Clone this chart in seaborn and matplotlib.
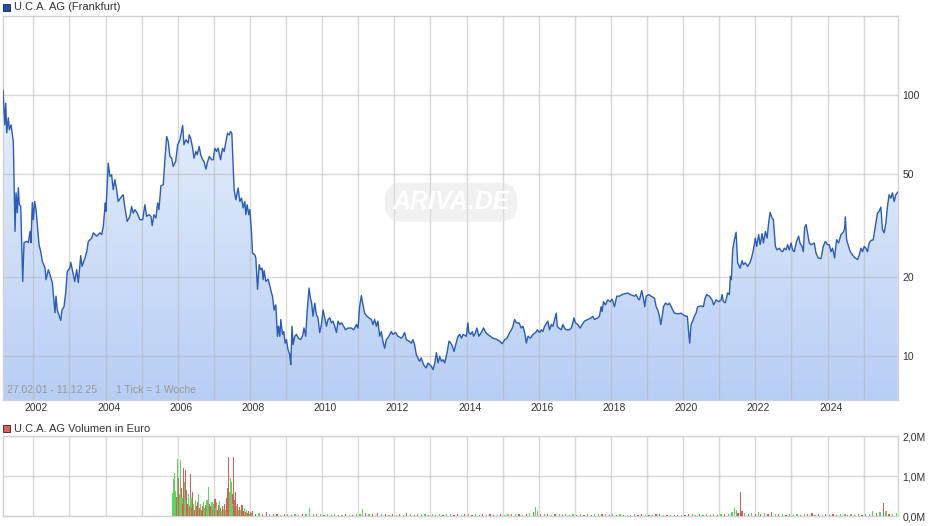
import numpy as np
import pandas as pd
import matplotlib
matplotlib.use("Agg")
import matplotlib.pyplot as plt
import matplotlib.transforms as mtransforms
from matplotlib.colors import LinearSegmentedColormap
from matplotlib.patches import Rectangle
from matplotlib.ticker import FixedLocator, NullLocator
import seaborn as sns

# ---------------- data ----------------
price_dates = [
    2001.160, 2001.210, 2001.236, 2001.263, 2001.307, 2001.335, 2001.382, 2001.401, 2001.446, 2001.493,
    2001.521, 2001.557, 2001.584, 2001.612, 2001.651, 2001.706, 2001.743, 2001.817, 2001.862, 2001.909,
    2001.936, 2001.972, 2002.000, 2002.039, 2002.075, 2002.158, 2002.213, 2002.249, 2002.324, 2002.352,
    2002.415, 2002.462, 2002.526, 2002.601, 2002.628, 2002.664, 2002.758, 2002.794, 2002.850, 2002.897,
    2002.941, 2003.017, 2003.036, 2003.091, 2003.147, 2003.202, 2003.246, 2003.313, 2003.349, 2003.432,
    2003.479, 2003.523, 2003.617, 2003.661, 2003.755, 2003.847, 2003.894, 2003.938, 2003.994, 2004.011,
    2004.075, 2004.122, 2004.169, 2004.213, 2004.260, 2004.307, 2004.351, 2004.445, 2004.489, 2004.536,
    2004.600, 2004.675, 2004.722, 2004.766, 2004.813, 2004.877, 2004.952, 2005.028, 2005.091, 2005.138,
    2005.202, 2005.257, 2005.293, 2005.341, 2005.396, 2005.443, 2005.479, 2005.534, 2005.598, 2005.645,
    2005.692, 2005.737, 2005.784, 2005.831, 2005.875, 2005.942, 2005.997, 2006.061, 2006.136, 2006.172,
    2006.227, 2006.291, 2006.319, 2006.357, 2006.413, 2006.449, 2006.504, 2006.540, 2006.596, 2006.635,
    2006.690, 2006.726, 2006.781, 2006.817, 2006.873, 2006.939, 2006.983, 2007.028, 2007.075, 2007.119,
    2007.186, 2007.241, 2007.285, 2007.352, 2007.379, 2007.424, 2007.462, 2007.498, 2007.534, 2007.562,
    2007.609, 2007.673, 2007.720, 2007.767, 2007.811, 2007.858, 2007.886, 2007.922, 2007.969, 2007.997,
    2008.044, 2008.072, 2008.136, 2008.163, 2008.210, 2008.255, 2008.293, 2008.338, 2008.365, 2008.393,
    2008.440, 2008.503, 2008.550, 2008.597, 2008.625, 2008.669, 2008.716, 2008.763, 2008.791, 2008.827,
    2008.855, 2008.902, 2008.938, 2008.974, 2009.011, 2009.055, 2009.102, 2009.130, 2009.166, 2009.194,
    2009.241, 2009.288, 2009.343, 2009.398, 2009.454, 2009.498, 2009.545, 2009.581, 2009.637, 2009.675,
    2009.703, 2009.747, 2009.794, 2009.841, 2009.885, 2009.932, 2009.979, 2010.025, 2010.072, 2010.119,
    2010.163, 2010.210, 2010.257, 2010.302, 2010.349, 2010.396, 2010.440, 2010.487, 2010.534, 2010.598,
    2010.645, 2010.717, 2010.811, 2010.874, 2010.949, 2010.993, 2011.039, 2011.086, 2011.130, 2011.177,
    2011.240, 2011.296, 2011.362, 2011.407, 2011.454, 2011.501, 2011.545, 2011.592, 2011.639, 2011.683,
    2011.730, 2011.777, 2011.849, 2011.916, 2011.960, 2012.036, 2012.099, 2012.193, 2012.237, 2012.284,
    2012.331, 2012.403, 2012.470, 2012.514, 2012.561, 2012.608, 2012.652, 2012.699, 2012.746, 2012.791,
    2012.838, 2012.885, 2012.929, 2012.976, 2013.028, 2013.072, 2013.119, 2013.166, 2013.210, 2013.257,
    2013.304, 2013.348, 2013.395, 2013.459, 2013.514, 2013.561, 2013.608, 2013.652, 2013.699, 2013.763,
    2013.810, 2013.857, 2013.901, 2013.995, 2014.036, 2014.064, 2014.111, 2014.158, 2014.194, 2014.249,
    2014.285, 2014.341, 2014.407, 2014.471, 2014.526, 2014.590, 2014.656, 2014.728, 2014.822, 2014.914,
    2014.989, 2015.055, 2015.119, 2015.194, 2015.268, 2015.332, 2015.379, 2015.451, 2015.517, 2015.562,
    2015.609, 2015.656, 2015.700, 2015.767, 2015.839, 2015.913, 2015.960, 2016.022, 2016.069, 2016.113,
    2016.161, 2016.252, 2016.299, 2016.346, 2016.390, 2016.437, 2016.484, 2016.512, 2016.556, 2016.623,
    2016.667, 2016.714, 2016.761, 2016.852, 2016.899, 2016.943, 2016.971, 2017.017, 2017.080, 2017.147,
    2017.202, 2017.266, 2017.357, 2017.451, 2017.495, 2017.542, 2017.633, 2017.680, 2017.727, 2017.755,
    2017.791, 2017.846, 2017.910, 2017.977, 2018.033, 2018.097, 2018.160, 2018.235, 2018.310, 2018.401,
    2018.465, 2018.531, 2018.650, 2018.697, 2018.741, 2018.788, 2018.852, 2018.899, 2018.935, 2018.974,
    2019.047, 2019.113, 2019.205, 2019.252, 2019.296, 2019.343, 2019.379, 2019.418, 2019.454, 2019.509,
    2019.573, 2019.620, 2019.711, 2019.758, 2019.850, 2019.944, 2019.988, 2020.080, 2020.116, 2020.152,
    2020.180, 2020.218, 2020.263, 2020.310, 2020.357, 2020.401, 2020.495, 2020.559, 2020.606, 2020.650,
    2020.725, 2020.800, 2020.844, 2020.910, 2020.982, 2021.050, 2021.077, 2021.113, 2021.169, 2021.232,
    2021.279, 2021.307, 2021.335, 2021.371, 2021.418, 2021.465, 2021.509, 2021.575, 2021.631, 2021.667,
    2021.722, 2021.786, 2021.852, 2021.897, 2021.944, 2022.000, 2022.036, 2022.091, 2022.130, 2022.186,
    2022.222, 2022.277, 2022.324, 2022.368, 2022.407, 2022.462, 2022.498, 2022.554, 2022.601, 2022.664,
    2022.711, 2022.755, 2022.802, 2022.849, 2022.893, 2022.940, 2022.987, 2023.031, 2023.078, 2023.141,
    2023.197, 2023.236, 2023.291, 2023.327, 2023.363, 2023.402, 2023.438, 2023.493, 2023.540, 2023.632,
    2023.679, 2023.742, 2023.817, 2023.880, 2023.936, 2024.000, 2024.047, 2024.094, 2024.138, 2024.194,
    2024.249, 2024.304, 2024.371, 2024.434, 2024.470, 2024.490, 2024.526, 2024.581, 2024.628, 2024.692,
    2024.739, 2024.830, 2024.877, 2024.924, 2024.968, 2025.014, 2025.061, 2025.105, 2025.152, 2025.199,
    2025.263, 2025.337, 2025.382, 2025.429, 2025.476, 2025.520, 2025.567, 2025.614, 2025.658, 2025.705,
    2025.752, 2025.796, 2025.843, 2025.890, 2025.945,
]
price_values = [
    104.8, 76.9, 93.1, 71.7, 81.8, 73.6, 76.9, 73.6, 66.4, 30.0,
    42.2, 35.4, 44.2, 38.0, 37.6, 19.3, 27.2, 27.5, 27.2, 30.0,
    27.2, 38.7, 33.3, 39.1, 36.4, 26.7, 24.8, 23.05, 21.8, 19.6,
    21.4, 20.5, 19.1, 14.65, 16.95, 15.0, 13.7, 15.0, 15.45, 17.5,
    21.1, 21.8, 22.85, 21.1, 19.3, 21.4, 19.1, 24.25, 22.05, 23.8,
    25.1, 27.5, 28.3, 29.65, 28.8, 29.65, 29.2, 31.4, 38.6, 35.85,
    54.9, 48.8, 49.5, 43.4, 47.4, 43.4, 39.1, 40.9, 41.5, 36.95,
    32.8, 34.3, 37.4, 35.3, 36.4, 35.3, 33.3, 33.3, 38.0, 34.3,
    34.8, 34.3, 31.6, 34.8, 33.8, 38.6, 36.4, 44.9, 45.3, 56.5,
    69.4, 66.4, 58.2, 57.35, 53.3, 55.7, 64.5, 67.4, 76.5, 64.5,
    67.4, 65.5, 70.4, 68.4, 62.6, 57.35, 60.8, 59.1, 63.5, 59.1,
    56.5, 55.7, 52.0, 54.9, 58.2, 56.5, 56.5, 62.6, 60.8, 62.6,
    56.5, 62.6, 60.8, 68.4, 71.45, 70.4, 72.5, 71.45, 53.3, 43.4,
    39.7, 44.05, 39.1, 40.3, 36.95, 39.1, 34.8, 38.0, 34.8, 36.4,
    29.65, 24.8, 24.4, 23.75, 18.0, 22.4, 21.4, 21.7, 19.6, 21.25,
    19.3, 19.7, 18.6, 17.45, 16.95, 15.0, 15.7, 11.9, 13.0, 11.9,
    13.8, 12.1, 12.4, 11.2, 11.55, 10.57, 10.12, 9.26, 13.0, 11.05,
    11.9, 12.1, 11.7, 11.55, 11.9, 12.8, 11.9, 14.6, 18.2, 16.65,
    16.15, 14.2, 15.95, 14.4, 14.0, 12.3, 13.2, 15.0, 14.0, 13.0,
    13.8, 14.0, 13.4, 13.6, 13.0, 12.3, 13.6, 13.2, 13.4, 13.0,
    12.6, 12.8, 12.8, 12.6, 13.2, 12.8, 15.5, 17.05, 15.7, 14.6,
    14.2, 14.0, 13.8, 13.2, 13.8, 13.0, 13.6, 11.9, 12.4, 11.4,
    10.7, 11.55, 11.9, 12.4, 12.1, 12.3, 11.9, 11.7, 11.9, 12.3,
    11.55, 11.4, 11.2, 11.55, 11.05, 10.12, 9.83, 9.54, 9.83, 9.4,
    9.12, 9.0, 9.4, 9.26, 9.12, 8.86, 9.4, 10.3, 9.4, 9.97,
    9.54, 9.68, 9.4, 10.3, 11.4, 11.2, 10.9, 10.4, 11.05, 11.9,
    12.1, 11.7, 12.1, 11.9, 13.4, 12.3, 12.1, 12.4, 11.9, 12.3,
    12.8, 11.9, 12.3, 12.8, 12.3, 12.1, 11.9, 11.7, 11.6, 11.4,
    11.15, 11.55, 11.7, 12.3, 12.8, 13.8, 13.4, 13.4, 12.8, 13.0,
    12.3, 11.2, 11.9, 11.7, 12.1, 12.3, 12.6, 12.3, 12.6, 12.4,
    13.0, 13.6, 12.6, 13.2, 13.0, 13.8, 14.6, 13.0, 12.8, 12.6,
    13.2, 12.8, 12.6, 12.6, 12.8, 13.4, 14.0, 13.4, 13.2, 12.8,
    13.2, 13.6, 13.8, 14.0, 14.2, 13.8, 14.0, 14.2, 15.45, 14.8,
    16.15, 15.7, 16.4, 16.15, 16.5, 15.45, 16.95, 16.95, 17.2, 17.35,
    17.45, 17.2, 16.95, 17.2, 16.65, 16.4, 17.8, 16.65, 15.45, 16.95,
    17.2, 16.95, 16.65, 15.45, 15.0, 14.2, 13.2, 14.2, 15.45, 15.95,
    15.7, 15.95, 15.0, 14.6, 14.5, 14.6, 14.4, 14.2, 14.2, 12.3,
    11.2, 13.2, 13.6, 14.2, 14.6, 15.45, 15.55, 15.45, 16.65, 17.2,
    16.95, 16.4, 15.7, 16.4, 16.15, 16.4, 17.2, 16.15, 16.0, 17.45,
    17.2, 20.2, 19.6, 25.5, 27.9, 29.8, 22.75, 21.7, 23.2, 22.4,
    22.75, 22.05, 22.85, 23.9, 25.5, 28.3, 26.3, 29.2, 26.7, 29.45,
    27.1, 30.0, 28.3, 32.4, 35.5, 33.8, 33.3, 26.3, 25.5, 25.9,
    25.3, 25.1, 25.9, 25.5, 26.7, 25.5, 27.1, 25.5, 25.1, 27.5,
    28.8, 27.1, 26.3, 25.1, 31.0, 31.9, 30.0, 27.1, 26.7, 27.1,
    24.8, 23.75, 23.6, 26.3, 27.5, 26.7, 26.7, 25.1, 25.9, 23.75,
    27.9, 27.1, 29.2, 29.8, 30.7, 34.1, 27.9, 26.3, 25.1, 24.4,
    23.9, 23.4, 24.4, 25.9, 25.1, 26.3, 25.9, 25.1, 27.1, 27.7,
    27.9, 32.4, 35.3, 35.85, 37.2, 30.5, 29.65, 32.4, 37.4, 41.5,
    40.3, 42.2, 39.1, 41.5, 42.5,
]

# weekly trading volume (million EUR) and direction (1 = up week / green, 0 = down week / red)
vol_dates = [
    2005.86, 2005.88, 2005.90, 2005.92, 2005.94, 2005.96, 2005.99, 2006.01, 2006.03, 2006.06,
    2006.08, 2006.10, 2006.12, 2006.14, 2006.16, 2006.18, 2006.21, 2006.23, 2006.25, 2006.27,
    2006.30, 2006.32, 2006.35, 2006.37, 2006.39, 2006.41, 2006.44, 2006.46, 2006.49, 2006.51,
    2006.54, 2006.56, 2006.58, 2006.61, 2006.63, 2006.66, 2006.68, 2006.71, 2006.73, 2006.76,
    2006.78, 2006.81, 2006.85, 2006.87, 2006.90, 2006.92, 2006.95, 2006.97, 2007.00, 2007.03,
    2007.05, 2007.08, 2007.10, 2007.13, 2007.16, 2007.18, 2007.21, 2007.24, 2007.27, 2007.30,
    2007.33, 2007.36, 2007.38, 2007.41, 2007.43, 2007.46, 2007.48, 2007.51, 2007.53, 2007.55,
    2007.58, 2007.61, 2007.63, 2007.66, 2007.69, 2007.72, 2007.75, 2007.78, 2007.81, 2007.84,
    2007.87, 2007.90, 2007.93, 2007.96, 2007.99, 2008.02, 2008.05, 2008.08,
    2008.15, 2008.25, 2008.35, 2008.45, 2008.55, 2008.65, 2008.75, 2008.85, 2008.95,
    2009.05, 2009.15, 2009.25, 2009.35, 2009.45, 2009.55, 2009.66, 2009.75, 2009.85, 2009.95,
    2010.05, 2010.15, 2010.25, 2010.35, 2010.45, 2010.55, 2010.65, 2010.75, 2010.85, 2010.95,
    2011.05, 2011.12, 2011.20, 2011.30, 2011.40, 2011.54, 2011.65, 2011.75, 2011.85, 2011.95,
    2012.05, 2012.15, 2012.25, 2012.33, 2012.45, 2012.55, 2012.65, 2012.75, 2012.85, 2012.95,
    2013.05, 2013.15, 2013.25, 2013.35, 2013.45, 2013.55, 2013.65, 2013.75, 2013.85, 2013.95,
    2014.05, 2014.15, 2014.25, 2014.35, 2014.45, 2014.55, 2014.65, 2014.75, 2014.85, 2014.95,
    2015.05, 2015.15, 2015.25, 2015.35, 2015.45, 2015.55, 2015.65, 2015.75, 2015.85, 2015.91,
    2015.97, 2016.05, 2016.15, 2016.25, 2016.35, 2016.45, 2016.58, 2016.65, 2016.75, 2016.85,
    2016.95, 2017.05, 2017.15, 2017.25, 2017.35, 2017.45, 2017.55, 2017.65, 2017.75, 2017.85,
    2017.95, 2018.05, 2018.15, 2018.25, 2018.35, 2018.45, 2018.55, 2018.65, 2018.75, 2018.85,
    2018.95, 2019.05, 2019.15, 2019.25, 2019.35, 2019.45, 2019.55, 2019.65, 2019.75, 2019.85,
    2019.95, 2020.05, 2020.15, 2020.25, 2020.35, 2020.45, 2020.55, 2020.65, 2020.75, 2020.85,
    2020.95, 2021.05, 2021.15, 2021.25, 2021.35, 2021.42, 2021.47, 2021.52, 2021.58, 2021.63,
    2021.70, 2021.80, 2021.90, 2022.00, 2022.08, 2022.15, 2022.25, 2022.35, 2022.45, 2022.55,
    2022.65, 2022.75, 2022.85, 2022.95, 2023.05, 2023.15, 2023.25, 2023.35, 2023.45, 2023.57,
    2023.65, 2023.75, 2023.85, 2023.95, 2024.05, 2024.15, 2024.25, 2024.35, 2024.48, 2024.55,
    2024.65, 2024.75, 2024.85, 2024.95, 2025.05, 2025.15, 2025.25, 2025.35, 2025.45, 2025.55,
    2025.62, 2025.70, 2025.80, 2025.90,
]
vol_values = [
    0.58, 0.92, 0.35, 1.08, 0.62, 0.48, 1.43, 0.75, 0.95, 0.55,
    1.40, 0.70, 0.45, 0.30, 1.20, 0.85, 1.15, 0.40, 0.65, 0.30,
    0.55, 0.25, 1.05, 0.45, 0.20, 0.60, 0.30, 0.15, 0.40, 0.25,
    0.18, 0.35, 0.55, 0.20, 0.30, 0.15, 0.25, 0.35, 0.20, 0.12,
    0.28, 0.40, 0.72, 0.30, 0.18, 0.25, 0.35, 0.15, 0.30, 0.42,
    0.20, 0.35, 0.15, 0.28, 0.38, 0.20, 0.12, 0.25, 0.18, 0.30,
    0.15, 0.45, 0.70, 1.48, 0.60, 0.95, 0.85, 0.55, 0.30, 1.47,
    0.40, 0.60, 0.25, 0.30, 0.15, 0.22, 0.15, 0.28, 0.12, 0.20,
    0.10, 0.15, 0.08, 0.12, 0.06, 0.10, 0.07, 0.12,
    0.06, 0.08, 0.05, 0.09, 0.04, 0.06, 0.05, 0.03, 0.05,
    0.04, 0.03, 0.04, 0.03, 0.05, 0.04, 0.20, 0.06, 0.04, 0.05,
    0.03, 0.04, 0.03, 0.05, 0.03, 0.02, 0.04, 0.03, 0.02, 0.04,
    0.06, 0.18, 0.07, 0.04, 0.05, 0.08, 0.04, 0.05, 0.03, 0.04,
    0.03, 0.04, 0.03, 0.08, 0.04, 0.03, 0.04, 0.03, 0.05, 0.03,
    0.04, 0.03, 0.05, 0.03, 0.04, 0.05, 0.03, 0.04, 0.03, 0.05,
    0.04, 0.03, 0.04, 0.03, 0.05, 0.03, 0.04, 0.03, 0.02, 0.04,
    0.03, 0.05, 0.04, 0.06, 0.04, 0.03, 0.05, 0.07, 0.10, 0.22,
    0.12, 0.06, 0.04, 0.05, 0.03, 0.04, 0.05, 0.03, 0.04, 0.03,
    0.05, 0.03, 0.04, 0.03, 0.04, 0.03, 0.05, 0.04, 0.06, 0.04,
    0.03, 0.04, 0.03, 0.04, 0.03, 0.02, 0.03, 0.04, 0.03, 0.04,
    0.03, 0.02, 0.03, 0.04, 0.05, 0.03, 0.02, 0.03, 0.02, 0.03,
    0.02, 0.03, 0.05, 0.04, 0.03, 0.04, 0.03, 0.04, 0.03, 0.04,
    0.03, 0.04, 0.05, 0.06, 0.10, 0.20, 0.15, 0.08, 0.60, 0.12,
    0.08, 0.05, 0.07, 0.05, 0.10, 0.06, 0.08, 0.05, 0.09, 0.06,
    0.04, 0.05, 0.03, 0.04, 0.03, 0.04, 0.03, 0.05, 0.04, 0.08,
    0.03, 0.04, 0.03, 0.04, 0.03, 0.04, 0.03, 0.05, 0.06, 0.03,
    0.04, 0.03, 0.04, 0.03, 0.04, 0.06, 0.12, 0.08, 0.10, 0.33,
    0.12, 0.06, 0.05, 0.07,
]
vol_up = [
    1, 1, 0, 1, 1, 0, 1, 1, 0, 1,
    1, 0, 1, 0, 0, 1, 0, 1, 0, 0,
    1, 0, 0, 1, 0, 0, 1, 0, 1, 0,
    1, 0, 1, 0, 1, 0, 0, 1, 1, 0,
    0, 1, 1, 0, 1, 0, 1, 0, 1, 0,
    1, 1, 0, 0, 1, 0, 1, 0, 1, 0,
    1, 0, 0, 0, 1, 1, 1, 0, 1, 0,
    0, 0, 1, 0, 1, 0, 1, 0, 0, 1,
    0, 1, 0, 0, 1, 0, 1, 0,
    0, 1, 0, 0, 1, 0, 0, 1, 0,
    1, 0, 1, 1, 0, 1, 1, 1, 0, 1,
    0, 1, 0, 1, 0, 1, 0, 1, 0, 1,
    1, 1, 0, 1, 0, 0, 1, 0, 1, 0,
    1, 0, 1, 0, 1, 0, 1, 0, 1, 0,
    1, 0, 1, 0, 1, 1, 0, 0, 1, 0,
    1, 0, 1, 1, 0, 1, 0, 0, 1, 0,
    1, 1, 0, 1, 0, 1, 0, 1, 0, 1,
    1, 0, 1, 0, 1, 0, 1, 0, 1, 0,
    1, 0, 1, 0, 1, 0, 1, 1, 0, 1,
    0, 1, 0, 1, 0, 1, 0, 1, 0, 0,
    1, 0, 1, 0, 0, 1, 0, 1, 0, 0,
    1, 0, 0, 1, 1, 0, 1, 1, 0, 1,
    0, 1, 0, 1, 1, 1, 1, 0, 0, 0,
    1, 0, 1, 0, 1, 0, 1, 0, 0, 1,
    0, 1, 0, 1, 0, 1, 0, 1, 0, 0,
    1, 0, 1, 0, 1, 0, 1, 1, 1, 0,
    1, 0, 1, 0, 1, 1, 1, 0, 1, 0,
    1, 0, 1, 1,
]

year_ticks = list(range(2001, 2027))
year_labels = [str(y) if y % 2 == 0 else "" for y in year_ticks]
price_ticks = [10, 20, 50, 100]
price_tick_labels = ["10", "20", "50", "100"]
vol_ticks = [0, 1, 2]
vol_tick_labels = ["0,0M", "1,0M", "2,0M"]
title_main = "U.C.A. AG (Frankfurt)"
title_vol = "U.C.A. AG Volumen in Euro"
period_text = "27.02.01 - 11.12.25"
tick_text = "1 Tick = 1 Woche"

# ---------------- style ----------------
sns.set_theme(style="white")
plt.rcParams['font.family'] = ['Liberation Sans', 'DejaVu Sans']

W, H = 940, 526
fig = plt.figure(figsize=(W / 100, H / 100), dpi=100)
L, R = 3, 898
ax = fig.add_axes([L / W, 1 - 400 / H, (R - L) / W, (400 - 16) / H])
axv = fig.add_axes([L / W, 1 - 516 / H, (R - L) / W, (516 - 436) / H])

XMIN, XMAX = 2001.16, 2025.95
YMIN, YMAX = 6.78, 201.0
GRID = '#b4b4b4'
SPINE = '#d2d2d2'
TXT = '#333333'

df = pd.DataFrame({"date": price_dates, "price": price_values})

# ---- price panel ----
ax.set_yscale('log')
poly = ax.fill_between(df["date"], df["price"], 1.0, facecolor='none', edgecolor='none')
grad = np.linspace(0, 1, 256).reshape(-1, 1)
cmap = LinearSegmentedColormap.from_list('fillgrad', ['#b7cef4', '#f3f8ff'])
im = ax.imshow(grad, aspect='auto', cmap=cmap, origin='lower', extent=[0, 1, 0, 1],
               transform=ax.transAxes, zorder=1, interpolation='bilinear')
im.set_clip_path(poly.get_paths()[0], transform=ax.transData)

sns.lineplot(data=df, x="date", y="price", ax=ax, color='#2a5cb8', linewidth=1.0,
             zorder=3, legend=False, estimator=None, sort=False)

ax.set_xlim(XMIN, XMAX)
ax.set_ylim(YMIN, YMAX)
ax.set_xlabel("")
ax.set_ylabel("")
ax.xaxis.set_major_locator(FixedLocator(year_ticks))
ax.set_xticklabels(year_labels)
ax.yaxis.set_major_locator(FixedLocator(price_ticks))
ax.yaxis.set_minor_locator(NullLocator())
ax.set_yticklabels(price_tick_labels)
ax.yaxis.tick_right()
ax.tick_params(axis='both', length=0, labelsize=7.5, labelcolor=TXT)
ax.tick_params(axis='y', pad=3)
ax.tick_params(axis='x', pad=2.5)
ax.grid(True, which='major', color=GRID, alpha=0.5, linewidth=1.0)
ax.set_axisbelow(False)
for sp in ax.spines.values():
    sp.set_color(SPINE)
    sp.set_linewidth(1.0)

offset = mtransforms.ScaledTranslation(3.0 / 100, 0, fig.dpi_scale_trans)
for lbl in ax.get_xticklabels():
    lbl.set_transform(lbl.get_transform() + offset)

# watermark
ax.text(0.5006, 0.515, "ARIVA.DE", transform=ax.transAxes, ha='center', va='center',
        fontsize=18, fontstyle='italic', fontweight='bold', color='white', zorder=2.6,
        bbox=dict(boxstyle='round,pad=0.3,rounding_size=0.7', facecolor='#dedede',
                  edgecolor='none', alpha=0.4))

# period annotation
ax.text(4 / (R - L), 0.012, period_text, transform=ax.transAxes, ha='left', va='bottom',
        fontsize=7.5, color='#9a9a9a', zorder=4)
ax.text(113 / (R - L), 0.012, tick_text, transform=ax.transAxes, ha='left', va='bottom',
        fontsize=7.5, color='#9a9a9a', zorder=4)

# ---- volume panel ----
colors = ['#5fd35f' if u else '#e05a5a' for u in vol_up]
axv.bar(vol_dates, vol_values, width=0.034, color=colors, linewidth=0, zorder=3)
axv.set_xlim(XMIN, XMAX)
axv.set_ylim(0, 2.0)
axv.xaxis.set_major_locator(FixedLocator(year_ticks))
axv.set_xticklabels([])
axv.yaxis.set_major_locator(FixedLocator(vol_ticks))
axv.set_yticklabels(vol_tick_labels)
axv.yaxis.tick_right()
axv.tick_params(axis='both', length=0, labelsize=7.5, labelcolor=TXT)
axv.tick_params(axis='y', pad=3)
axv.grid(True, which='major', color=GRID, alpha=0.5, linewidth=1.0, zorder=0)
axv.set_axisbelow(True)
for sp in axv.spines.values():
    sp.set_color(SPINE)
    sp.set_linewidth(1.0)

# ---- legends (small squares + titles) ----
fig.patches.append(Rectangle((3 / W, 1 - 11 / H), 7 / W, 7 / H, transform=fig.transFigure,
                             facecolor='#1f50b0', edgecolor='#222222', linewidth=0.6))
fig.text(14 / W, 1 - 7.5 / H, title_main, ha='left', va='center', fontsize=8, color=TXT)
fig.patches.append(Rectangle((3 / W, 1 - 432 / H), 7 / W, 7 / H, transform=fig.transFigure,
                             facecolor='#e06060', edgecolor='#222222', linewidth=0.6))
fig.text(14 / W, 1 - 428.5 / H, title_vol, ha='left', va='center', fontsize=8, color=TXT)

fig.savefig("out.png", dpi=100, facecolor='white')
